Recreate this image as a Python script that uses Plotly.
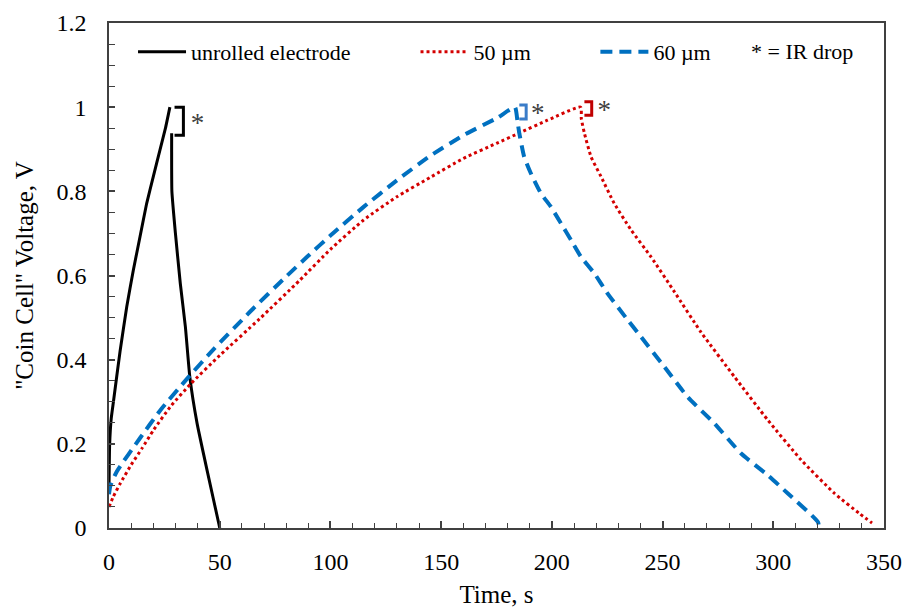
import plotly.graph_objects as go

# ---------------- data ----------------
# unrolled electrode (black, solid)
t_unrolled_charge = [0, 0.3, 1, 2, 5, 8, 11, 14, 17, 20, 23, 25.5, 27.5]
v_unrolled_charge = [0.10, 0.20, 0.26, 0.30, 0.42, 0.525, 0.613, 0.692, 0.771, 0.835, 0.898, 0.95, 1.0]
t_unrolled_dis = [28.3, 28.4, 30, 32.2, 34.5, 36.5, 39.8, 44.3, 49.6, 50]
v_unrolled_dis = [0.938, 0.80, 0.70, 0.581, 0.478, 0.359, 0.248, 0.137, 0.01, 0.0]

# 50 um (red, dotted)
t_50_charge = [0, 2, 5, 10, 15, 20, 28, 37, 50, 68, 86, 100, 115, 130, 145, 160, 175, 185, 198, 213]
v_50_charge = [0.05, 0.075, 0.105, 0.15, 0.19, 0.232, 0.29, 0.343, 0.41, 0.497, 0.588, 0.662, 0.732,
               0.787, 0.833, 0.878, 0.914, 0.938, 0.969, 1.0]
t_50_dis = [213.3, 214.7, 217.7, 222.2, 228.2, 235.8, 244.8, 255.5, 267.4, 282.5, 297.6, 312.7, 327.7, 339, 344.6]
v_50_dis = [0.973, 0.938, 0.882, 0.835, 0.771, 0.708, 0.644, 0.56, 0.465, 0.359, 0.256, 0.161, 0.082, 0.034, 0.012]

# 60 um (blue, dashed)
t_60_charge = [0, 0.6, 3.6, 14.2, 23.2, 35.3, 47.3, 63.9, 80.5, 89.6, 100, 115, 130, 145, 160, 175.5, 183.3]
v_60_charge = [0.08, 0.10, 0.135, 0.215, 0.28, 0.355, 0.425, 0.515, 0.60, 0.645, 0.695, 0.763, 0.826,
               0.884, 0.933, 0.975, 1.0]
t_60_dis = [184.5, 185.3, 187.5, 190.5, 195.1, 199.6, 204.1, 208.7, 213.2, 219.2, 225.2, 234.3, 240.3,
            250.8, 261.4, 273.5, 285.5, 297.6, 306.6, 320.2, 320.6]
v_60_dis = [0.965, 0.938, 0.882, 0.843, 0.795, 0.763, 0.724, 0.684, 0.644, 0.605, 0.557, 0.494, 0.454,
            0.383, 0.311, 0.248, 0.177, 0.125, 0.082, 0.014, 0.0]

# IR-drop brackets: (t_left, t_right, v_top, v_bottom)
bracket_unrolled = (29.6, 33.6, 1.0, 0.933)
bracket_60 = (185.3, 188.4, 1.005, 0.972)
bracket_50 = (214.7, 218.0, 1.013, 0.981)
star_positions_t = [40, 193.6, 223.7]
star_positions_v = [0.958, 0.980, 0.989]

series_names = ["unrolled electrode", "50 \u00b5m", "60 \u00b5m"]
x_ticks = [0, 50, 100, 150, 200, 250, 300, 350]
y_ticks = [0, 0.2, 0.4, 0.6, 0.8, 1.0, 1.2]

# ---------------- figure ----------------
FONT = "Liberation Serif, Times New Roman, serif"
BLACK = "#000000"
RED = "#d40000"
BLUE = "#0070c0"

fig = go.Figure()

fig.add_trace(go.Scatter(
    x=t_unrolled_charge + [None] + t_unrolled_dis,
    y=v_unrolled_charge + [None] + v_unrolled_dis,
    mode="lines", name=series_names[0], legend="legend",
    line=dict(color=BLACK, width=3, shape="spline", smoothing=0.4), connectgaps=False,
    hoverinfo="skip"))

fig.add_trace(go.Scatter(
    x=t_50_charge + t_50_dis, y=v_50_charge + v_50_dis,
    mode="lines", name=series_names[1], legend="legend2",
    line=dict(color=RED, width=3, dash="3px,3px", shape="spline", smoothing=0.5), hoverinfo="skip"))

fig.add_trace(go.Scatter(
    x=t_60_charge + t_60_dis, y=v_60_charge + v_60_dis,
    mode="lines", name=series_names[2], legend="legend3",
    line=dict(color=BLUE, width=4, dash="12px,7px", shape="spline", smoothing=0.5), hoverinfo="skip"))


def bracket(b, color):
    tl, tr, vt, vb = b
    return go.Scatter(x=[tl, tr, tr, tl], y=[vt, vt, vb, vb], mode="lines",
                      line=dict(color=color, width=3), showlegend=False, hoverinfo="skip")


fig.add_trace(bracket(bracket_unrolled, BLACK))
fig.add_trace(bracket(bracket_60, "#3a7cc8"))
fig.add_trace(bracket(bracket_50, "#c00000"))

fig.add_trace(go.Scatter(x=star_positions_t, y=star_positions_v, mode="text", text=["*"] * 3,
                         textfont=dict(family=FONT, size=27, color="#404040"),
                         showlegend=False, hoverinfo="skip"))

legend_common = dict(orientation="h", yanchor="middle", xanchor="left", y=0.9426,
                     bgcolor="rgba(0,0,0,0)", font=dict(family=FONT, size=22, color=BLACK),
                     itemwidth=48)

fig.update_layout(
    width=905, height=608,
    margin=dict(l=109, r=21, t=23, b=80),
    paper_bgcolor="white", plot_bgcolor="white",
    font=dict(family=FONT, size=24, color=BLACK),
    legend=dict(x=0.031, **legend_common),
    legend2=dict(x=0.3955, **legend_common),
    legend3=dict(x=0.6276, **legend_common),
    annotations=[dict(text="* = IR drop", x=0.826, y=0.9426, xref="paper", yref="paper",
                      xanchor="left", yanchor="middle", showarrow=False,
                      font=dict(family=FONT, size=22, color=BLACK))],
    xaxis=dict(range=[0, 350], tickvals=x_ticks, showline=True, linecolor="#404040", linewidth=1.5,
               mirror=True, ticks="inside", ticklen=7, tickcolor="#404040", tickwidth=1.5,
               minor=dict(dtick=10, ticks="inside", ticklen=5, tickcolor="#404040", tickwidth=1.2),
               showgrid=False, zeroline=False, ticklabelstandoff=11, ticklabeloverflow="allow",
               tickfont=dict(family=FONT, size=24),
               title=dict(text="Time, s", font=dict(family=FONT, size=25), standoff=19),
               automargin=False),
    yaxis=dict(range=[0, 1.2], tickvals=y_ticks, showline=True, linecolor="#404040", linewidth=1.5,
               mirror=True, ticks="inside", ticklen=6, tickcolor="#404040", tickwidth=1.5,
               minor=dict(dtick=0.05, ticks="inside", ticklen=6, tickcolor="#404040", tickwidth=1.2),
               showgrid=False, zeroline=False, ticklabelstandoff=16,
               tickfont=dict(family=FONT, size=24),
               title=dict(text="\"Coin Cell\" Voltage, V", font=dict(family=FONT, size=25), standoff=16),
               automargin=False),
)

# remove the browser's default 8px body margin so the 905x608 figure fills the window exactly
fig.write_html("out.html",
               config={"displayModeBar": False},
               post_script="document.body.style.margin='0';"
                           "document.documentElement.style.overflow='hidden';")
